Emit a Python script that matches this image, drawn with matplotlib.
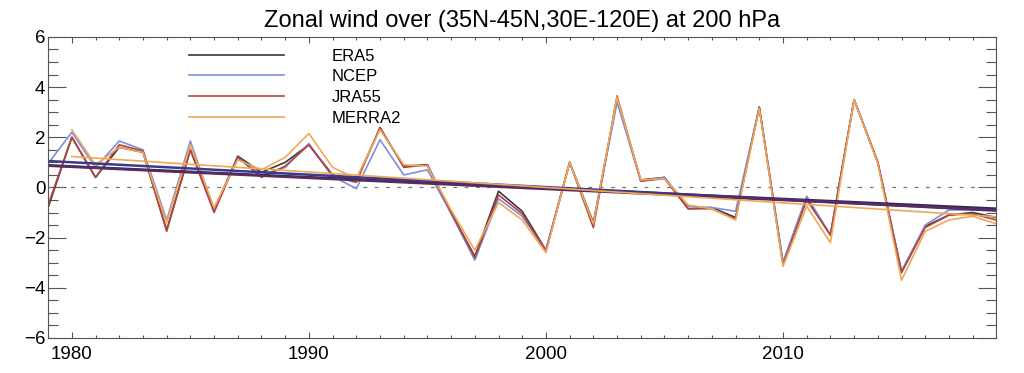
import numpy as np
import matplotlib.pyplot as plt
from matplotlib.ticker import MultipleLocator

plt.rcParams['font.family'] = ['Liberation Sans', 'DejaVu Sans']

years = np.arange(1979, 2020)

era5 = [-0.8, 2.0, 0.4, 1.6, 1.4, -1.7, 1.5, -0.9, 1.25, 0.6,
        1.0, 1.7, 0.5, 0.3, 2.35, 0.85, 0.9, -1.0, -2.75, -0.15,
        -0.95, -2.5, 1.0, -1.4, 3.5, 0.3, 0.4, -0.85, -0.8, -1.2,
        3.2, -3.0, -0.4, -1.9, 3.5, 1.0, -3.35, -1.55, -1.1, -1.0,
        -1.2]
ncep = [0.95, 2.2, 0.8, 1.85, 1.5, -1.3, 1.85, -0.9, 1.2, 0.5,
        0.8, 1.75, 0.45, -0.05, 1.9, 0.5, 0.7, -1.05, -2.9, -0.45,
        -1.15, -2.5, 1.0, -1.5, 3.4, 0.25, 0.4, -0.75, -0.8, -0.95,
        3.2, -3.0, -0.35, -1.9, 3.5, 1.0, -3.35, -1.5, -0.9, -0.9,
        -0.9]
jra55 = [-0.7, 2.0, 0.4, 1.7, 1.45, -1.75, 1.5, -1.0, 1.2, 0.4,
         0.85, 1.7, 0.45, 0.2, 2.4, 0.8, 0.9, -1.0, -2.8, -0.3,
         -1.05, -2.55, 1.0, -1.6, 3.65, 0.25, 0.35, -0.85, -0.85, -1.25,
         3.2, -3.1, -0.5, -1.9, 3.5, 1.0, -3.4, -1.6, -1.1, -1.05,
         -1.3]
# MERRA2 starts in 1980
merra2 = [np.nan, 2.3, 0.9, 1.6, 1.4, -1.4, 1.7, -0.8, 1.1, 0.7,
          1.2, 2.15, 0.8, 0.35, 2.3, 0.9, 0.85, -0.9, -2.5, -0.6,
          -1.3, -2.6, 1.0, -1.45, 3.6, 0.3, 0.35, -0.7, -0.85, -1.3,
          3.15, -3.15, -0.75, -2.2, 3.5, 0.95, -3.7, -1.75, -1.3, -1.15,
          -1.45]

names = ['ERA5', 'NCEP', 'JRA55', 'MERRA2']
series = [era5, ncep, jra55, merra2]
colors = ['#3a3a3a', '#7d8fe0', '#b5443e', '#f0a858']
trend_colors = ['#2a2a55', '#3a3a8a', '#5a2a60', '#f0a858']

fig = plt.figure(figsize=(10.24, 3.73), dpi=100)
ax = fig.add_axes([0.047, 0.094, 0.926, 0.807])

ax.axhline(0, color='#777777', lw=0.9, ls=(0, (3, 6)))

for name, vals, c in zip(names, series, colors):
    ax.plot(years, vals, color=c, lw=1.2, label=name)

# linear trends
for vals, c in zip(series, trend_colors):
    v = np.array(vals, dtype=float)
    ok = ~np.isnan(v)
    p = np.polyfit(years[ok], v[ok], 1)
    lw = 1.2 if c == '#f0a858' else 1.8
    ax.plot(years[ok], np.polyval(p, years[ok]), color=c, lw=lw)

ax.set_xlim(1979, 2019)
ax.set_ylim(-6, 6)
ax.xaxis.set_major_locator(MultipleLocator(10))
ax.xaxis.set_minor_locator(MultipleLocator(1))
ax.yaxis.set_major_locator(MultipleLocator(2))
ax.yaxis.set_minor_locator(MultipleLocator(0.5))
ax.tick_params(axis='both', which='both', direction='in', top=True, right=True,
               color='#555555', labelsize=13.5, width=0.8)
ax.tick_params(axis='y', which='major', length=13, pad=2)
ax.tick_params(axis='y', which='minor', length=7)
ax.tick_params(axis='x', which='major', length=4, pad=6)
ax.tick_params(axis='x', which='minor', length=2)
for s in ax.spines.values():
    s.set_color('#555555')
    s.set_linewidth(0.8)

ax.set_title('Zonal wind over (35N-45N,30E-120E) at 200 hPa', fontsize=17, pad=7)

ax.legend(loc='upper left', bbox_to_anchor=(0.136, 1.0), frameon=False,
          fontsize=12, handlelength=5.7, handletextpad=2.9, labelspacing=0.34,
          borderaxespad=0.3)

fig.savefig('out.png', dpi=100)
